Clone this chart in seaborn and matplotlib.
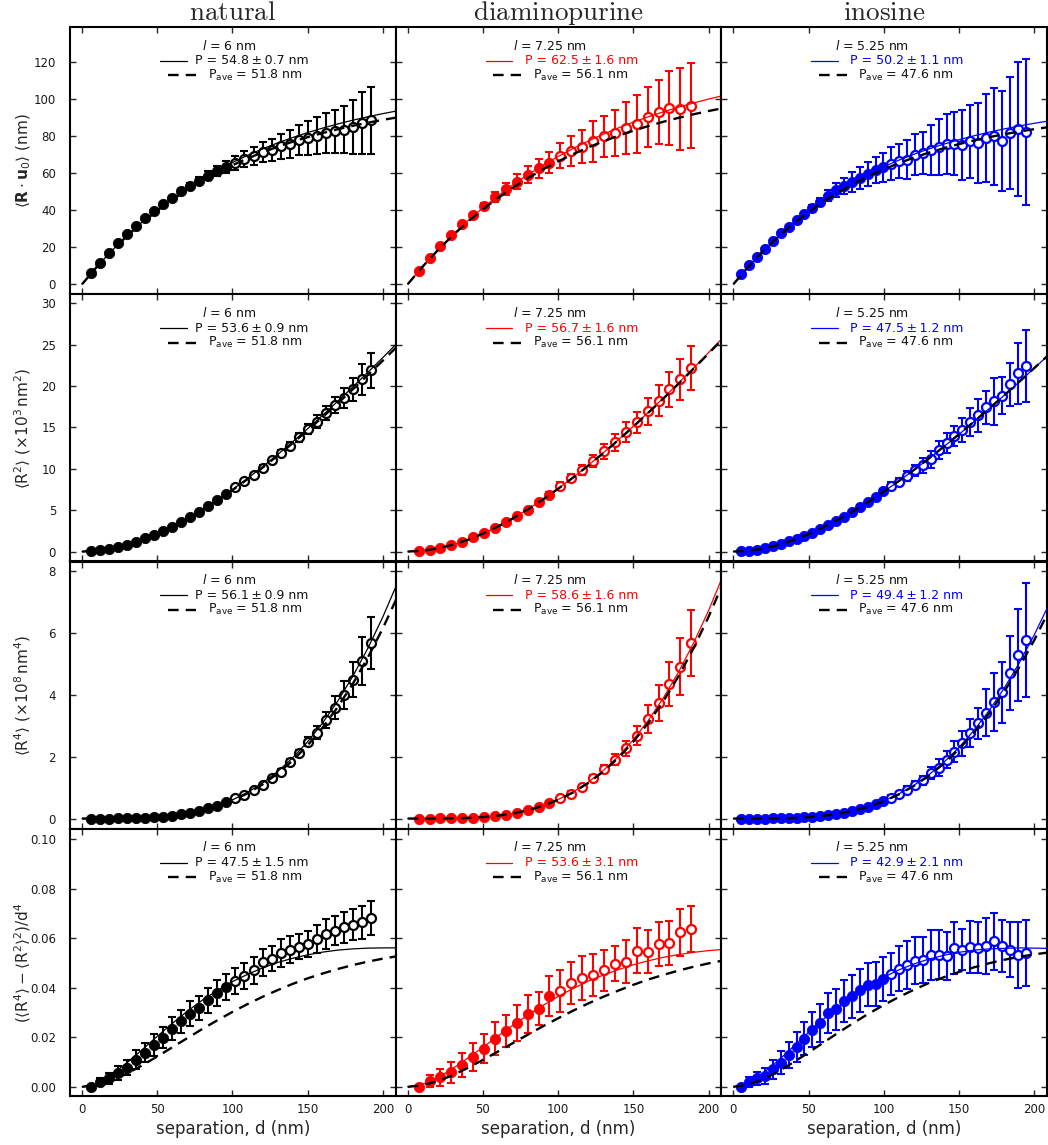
import numpy as np
import pandas as pd
import matplotlib
matplotlib.use("Agg")
import matplotlib.pyplot as plt
from matplotlib.lines import Line2D
from matplotlib.ticker import FormatStrFormatter
import seaborn as sns

# ---------------------------------------------------------------- samples
SAMPLES = ["natural", "diaminopurine", "inosine"]
COLORS = ["black", "#ff0000", "#0000ff"]
SEGMENT = [6.0, 7.25, 5.25]      # segment length l (nm); points sit at multiples of l
N_POINTS = [32, 26, 37]
N_FILLED = [16, 13, 19]          # first points drawn filled, remainder open
P_AVE = [51.8, 56.1, 47.6]
P_FIT = [[54.8, 62.5, 50.2],
         [53.6, 56.7, 47.5],
         [56.1, 58.6, 49.4],
         [47.5, 53.6, 42.9]]
P_ERR = [[0.7, 1.6, 1.1],
         [0.9, 1.6, 1.2],
         [0.9, 1.6, 1.2],
         [1.5, 3.1, 2.1]]

# ---------------------------------------------------------------- <R.u0> (nm)
RU_NAT = [6.2, 11.6, 16.9, 22.1, 26.8, 31.2, 35.5, 39.5, 43.2, 46.7, 50.0, 52.9, 55.8, 58.5, 61.0, 63.2,
          65.4, 67.5, 69.3, 71.1, 72.5, 74.3, 75.6, 77.6, 78.8, 80.1, 81.5, 82.4, 83.3, 84.5, 86.9, 88.3]
RU_NAT_ERR = [0.2, 0.2, 0.3, 0.3, 0.4, 0.4, 0.5, 0.6, 0.8, 1.0, 1.3, 1.6, 2.0, 2.3, 2.6, 3.0,
              3.6, 4.2, 4.8, 5.4, 6.0, 6.7, 7.4, 8.2, 9.0, 9.8, 10.7, 11.5, 12.5, 14.5, 16.8, 18.2]
RU_DAP = [7.3, 14.2, 20.6, 26.6, 32.2, 37.3, 42.2, 47.0, 51.3, 55.3, 59.0, 62.5, 65.5,
          69.3, 71.8, 74.2, 77.0, 79.6, 81.5, 84.2, 86.5, 90.1, 92.8, 94.9, 94.4, 96.2]
RU_DAP_ERR = [0.3, 0.4, 0.5, 0.6, 0.8, 1.0, 1.5, 2.5, 3.3, 4.0, 4.6, 5.0, 5.6,
              6.7, 8.0, 9.1, 11.0, 11.2, 12.3, 14.0, 15.7, 16.0, 17.5, 20.0, 22.0, 23.0]
RU_INO = [5.3, 10.1, 14.8, 19.2, 23.4, 27.4, 31.1, 34.6, 38.0, 41.2, 44.3, 47.8, 50.6, 52.9, 55.1, 57.3, 59.4, 61.3, 62.9,
          65.0, 66.3, 67.2, 69.9, 70.7, 72.5, 73.8, 75.6, 75.8, 75.2, 77.0, 76.1, 78.8, 79.7, 77.0, 81.5, 83.8, 82.0]
RU_INO_ERR = [0.3, 0.3, 0.4, 0.4, 0.5, 0.5, 0.5, 0.6, 1.0, 1.6, 2.3, 3.0, 3.8, 4.5, 5.2, 6.0, 6.5, 7.0, 8.0,
              9.0, 9.0, 10.6, 11.3, 11.5, 13.5, 15.0, 16.0, 17.0, 18.8, 19.7, 21.3, 23.7, 26.0, 27.0, 30.0, 36.0, 39.4]

# ---------------------------------------------------------------- <R^2> (x10^3 nm^2)
R2_NAT = [0.04, 0.14, 0.31, 0.55, 0.84, 1.19, 1.58, 2.03, 2.52, 3.00, 3.55, 4.15, 4.80, 5.45, 6.20, 6.95,
          7.80, 8.55, 9.30, 10.15, 11.05, 11.95, 12.75, 13.80, 14.80, 15.70, 16.75, 17.70, 18.60, 19.60, 20.80, 21.90]
R2_NAT_ERR = [0.01, 0.01, 0.02, 0.02, 0.03, 0.03, 0.04, 0.05, 0.06, 0.07, 0.08, 0.09, 0.10, 0.12, 0.14, 0.16,
              0.20, 0.22, 0.25, 0.28, 0.30, 0.35, 0.45, 0.55, 0.65, 0.80, 0.90, 1.00, 1.20, 1.40, 1.90, 2.15]
R2_DAP = [0.05, 0.20, 0.45, 0.80, 1.20, 1.72, 2.25, 2.90, 3.55, 4.30, 5.05, 5.95, 6.85,
          7.90, 8.85, 9.85, 10.95, 12.10, 13.20, 14.40, 15.60, 16.95, 18.25, 19.60, 20.80, 22.20]
R2_DAP_ERR = [0.01, 0.02, 0.03, 0.05, 0.07, 0.09, 0.10, 0.12, 0.15, 0.18, 0.22, 0.28, 0.35,
              0.45, 0.50, 0.60, 0.75, 0.90, 1.00, 1.20, 1.30, 1.60, 1.90, 2.10, 2.50, 2.70]
R2_INO = [0.03, 0.10, 0.23, 0.42, 0.64, 0.92, 1.22, 1.55, 1.90, 2.30, 2.72, 3.20, 3.70, 4.20, 4.80, 5.40, 5.95, 6.60, 7.30,
          7.90, 8.45, 9.10, 9.80, 10.45, 11.15, 12.30, 13.10, 14.00, 14.70, 15.70, 16.50, 17.45, 18.15, 18.85, 20.25, 21.55, 22.40]
R2_INO_ERR = [0.01, 0.01, 0.01, 0.02, 0.02, 0.03, 0.03, 0.04, 0.05, 0.06, 0.07, 0.08, 0.10, 0.12, 0.14, 0.17, 0.20, 0.25, 0.30,
              0.45, 0.50, 0.60, 0.70, 0.90, 1.00, 1.10, 1.20, 1.20, 1.40, 1.70, 2.00, 2.00, 2.80, 2.20, 2.60, 3.70, 4.35]

# ---------------------------------------------------------------- <R^4> (x10^8 nm^4)
R4_NAT = [0.0, 0.0, 0.001, 0.003, 0.007, 0.014, 0.025, 0.041, 0.063, 0.094, 0.134, 0.185, 0.25, 0.33, 0.42, 0.52,
          0.65, 0.76, 0.92, 1.08, 1.30, 1.51, 1.82, 2.11, 2.49, 2.78, 3.19, 3.59, 4.00, 4.49, 5.11, 5.68]
R4_NAT_ERR = [0.001, 0.001, 0.001, 0.001, 0.002, 0.002, 0.003, 0.004, 0.005, 0.006, 0.008, 0.010, 0.012, 0.015, 0.018, 0.022,
              0.06, 0.07, 0.08, 0.08, 0.09, 0.10, 0.10, 0.12, 0.15, 0.20, 0.26, 0.37, 0.46, 0.57, 0.78, 0.83]
R4_DAP = [0.0, 0.0004, 0.002, 0.006, 0.014, 0.028, 0.05, 0.083, 0.13, 0.19, 0.27, 0.37, 0.49,
          0.65, 0.81, 1.01, 1.30, 1.60, 1.91, 2.27, 2.68, 3.21, 3.75, 4.36, 4.92, 5.68]
R4_DAP_ERR = [0.001, 0.001, 0.001, 0.002, 0.002, 0.003, 0.004, 0.005, 0.007, 0.010, 0.013, 0.017, 0.022,
              0.06, 0.07, 0.08, 0.10, 0.13, 0.19, 0.24, 0.30, 0.45, 0.58, 0.71, 0.92, 1.06]
R4_INO = [0.0, 0.0001, 0.0006, 0.0017, 0.004, 0.008, 0.0146, 0.024, 0.038, 0.056, 0.079, 0.109, 0.146, 0.191, 0.245, 0.308, 0.382, 0.467, 0.565,
          0.68, 0.78, 0.94, 1.10, 1.24, 1.48, 1.65, 1.91, 2.16, 2.43, 2.76, 3.08, 3.43, 3.78, 4.08, 4.70, 5.30, 5.78]
R4_INO_ERR = [0.001, 0.001, 0.001, 0.001, 0.001, 0.001, 0.002, 0.002, 0.003, 0.004, 0.005, 0.007, 0.009, 0.012, 0.015, 0.020, 0.026, 0.034, 0.045,
              0.07, 0.08, 0.10, 0.12, 0.15, 0.19, 0.27, 0.28, 0.34, 0.42, 0.46, 0.50, 0.75, 0.93, 0.98, 1.20, 1.48, 1.86]

# ---------------------------------------------------------------- (<R^4> - <R^2>^2) / d^4
K_NAT = [0.0, 0.0020, 0.0034, 0.0056, 0.0078, 0.0110, 0.0138, 0.0168, 0.0199, 0.0235, 0.0264, 0.0295, 0.0318, 0.0349, 0.0379, 0.0403,
         0.0427, 0.0447, 0.0470, 0.0503, 0.0517, 0.0540, 0.0553, 0.0566, 0.0577, 0.0597, 0.0617, 0.0631, 0.0644, 0.0654, 0.0664, 0.0682]
K_NAT_ERR = [0.0005, 0.0015, 0.0022, 0.0028, 0.0032, 0.0037, 0.0038, 0.0045, 0.0044, 0.0047, 0.0046, 0.0050, 0.0050, 0.0050, 0.0052, 0.0054,
             0.0052, 0.0054, 0.0054, 0.0054, 0.0050, 0.0055, 0.0055, 0.0050, 0.0054, 0.0057, 0.0060, 0.0060, 0.0062, 0.0063, 0.0067, 0.0067]
K_DAP = [0.0, 0.0024, 0.0038, 0.0058, 0.0087, 0.0121, 0.0154, 0.0195, 0.0226, 0.0258, 0.0293, 0.0315, 0.0366,
         0.0387, 0.0419, 0.0440, 0.0450, 0.0470, 0.0497, 0.0506, 0.0550, 0.0546, 0.0577, 0.0580, 0.0624, 0.0638]
K_DAP_ERR = [0.0005, 0.0024, 0.0034, 0.0042, 0.0049, 0.0058, 0.0059, 0.0067, 0.0066, 0.0072, 0.0077, 0.0066, 0.0080,
             0.0084, 0.0085, 0.0088, 0.0085, 0.0082, 0.0070, 0.0087, 0.0090, 0.0088, 0.0089, 0.0089, 0.0094, 0.0094]
K_INO = [0.0, 0.0020, 0.0034, 0.0043, 0.0070, 0.0098, 0.0128, 0.0161, 0.0195, 0.0231, 0.0259, 0.0298, 0.0313, 0.0345, 0.0366, 0.0389, 0.0413, 0.0416, 0.0436,
         0.0456, 0.0477, 0.0493, 0.0510, 0.0513, 0.0533, 0.0533, 0.0530, 0.0561, 0.0554, 0.0564, 0.0561, 0.0570, 0.0587, 0.0570, 0.0554, 0.0533, 0.0541]
K_INO_ERR = [0.0008, 0.0020, 0.0027, 0.0033, 0.0040, 0.0047, 0.0053, 0.0060, 0.0065, 0.0071, 0.0076, 0.0080, 0.0082, 0.0085, 0.0087, 0.0088, 0.0088, 0.0089, 0.0089,
             0.0084, 0.0090, 0.0097, 0.0093, 0.0092, 0.0100, 0.0099, 0.0097, 0.0106, 0.0083, 0.0104, 0.0103, 0.0113, 0.0114, 0.0105, 0.0110, 0.0133, 0.0134]

# ---------------------------------------------------------------- model curves, sampled every 10 nm
D_CURVE = np.arange(0, 211, 10)

RU_NAT_FIT = [0, 9.56, 18.28, 26.24, 33.52, 40.15, 46.20, 51.73, 56.78, 61.39, 65.58, 69.42, 72.93, 76.13, 79.04, 81.71, 84.14, 86.36, 88.39, 90.24, 91.93, 93.47]
RU_NAT_AVE = [0, 9.53, 18.19, 26.05, 33.18, 39.66, 45.54, 50.89, 55.74, 60.14, 64.14, 67.77, 71.07, 74.06, 76.78, 79.24, 81.49, 83.52, 85.37, 87.04, 88.57, 89.96]
RU_DAP_FIT = [0, 9.61, 18.49, 26.67, 34.24, 41.21, 47.65, 53.60, 59.09, 64.15, 68.83, 73.15, 77.14, 80.81, 84.21, 87.35, 90.25, 92.91, 95.39, 97.66, 99.76, 101.70]
RU_DAP_AVE = [0, 9.57, 18.32, 26.32, 33.65, 40.35, 46.47, 52.07, 57.20, 61.89, 66.19, 70.10, 73.69, 76.98, 79.99, 82.73, 85.24, 87.54, 89.65, 91.57, 93.33, 94.93]
RU_INO_FIT = [0, 9.52, 18.13, 25.93, 32.99, 39.39, 45.17, 50.40, 55.14, 59.44, 63.32, 66.84, 70.02, 72.90, 75.50, 77.86, 79.99, 81.94, 83.68, 85.27, 86.71, 88.00]
RU_INO_AVE = [0, 9.49, 18.04, 25.73, 32.66, 38.90, 44.51, 49.56, 54.11, 58.21, 61.90, 65.22, 68.21, 70.90, 73.32, 75.50, 77.47, 79.24, 80.83, 82.26, 83.55, 84.72]

R2_NAT_FIT = [0, 0.097, 0.375, 0.821, 1.419, 2.155, 3.012, 3.988, 5.064, 6.239, 7.498, 8.838, 10.25, 11.72, 13.26, 14.85, 16.49, 18.17, 19.90, 21.66, 23.45, 25.28]
R2_NAT_AVE = [0, 0.097, 0.375, 0.818, 1.413, 2.142, 2.996, 3.960, 5.027, 6.187, 7.430, 8.750, 10.14, 11.59, 13.10, 14.66, 16.27, 17.92, 19.61, 21.33, 23.09, 24.87]
R2_DAP_FIT = [0, 0.098, 0.377, 0.823, 1.429, 2.170, 3.039, 4.030, 5.128, 6.323, 7.609, 8.979, 10.42, 11.94, 13.52, 15.15, 16.84, 18.58, 20.36, 22.19, 24.05, 25.94]
R2_DAP_AVE = [0, 0.097, 0.377, 0.826, 1.425, 2.165, 3.036, 4.024, 5.116, 6.308, 7.587, 8.954, 10.39, 11.90, 13.47, 15.10, 16.78, 18.50, 20.27, 22.09, 23.94, 25.82]
R2_INO_FIT = [0, 0.097, 0.373, 0.812, 1.397, 2.111, 2.946, 3.888, 4.925, 6.048, 7.248, 8.519, 9.853, 11.24, 12.69, 14.17, 15.70, 17.27, 18.87, 20.50, 22.16, 23.84]
R2_INO_AVE = [0, 0.097, 0.373, 0.813, 1.398, 2.113, 2.949, 3.892, 4.929, 6.053, 7.254, 8.526, 9.861, 11.25, 12.70, 14.18, 15.71, 17.28, 18.88, 20.51, 22.17, 23.85]

R4_NAT_FIT = [0, 0.0001, 0.0014, 0.0068, 0.0205, 0.0476, 0.0940, 0.1661, 0.2704, 0.4139, 0.6037, 0.8467, 1.1499, 1.5201, 1.9640, 2.4883, 3.0993, 3.8021, 4.6041, 5.5112, 6.5288, 7.6618]
R4_NAT_AVE = [0, 0.0001, 0.0014, 0.0068, 0.0202, 0.0467, 0.0918, 0.1616, 0.2624, 0.4006, 0.5826, 0.8149, 1.1038, 1.4555, 1.8764, 2.3719, 2.9475, 3.6092, 4.3620, 5.2109, 6.1605, 7.2155]
R4_DAP_FIT = [0, 0.0001, 0.0014, 0.0069, 0.0207, 0.0482, 0.0952, 0.1684, 0.2747, 0.4213, 0.6153, 0.8640, 1.1747, 1.5546, 2.0109, 2.5511, 3.1818, 3.9088, 4.7382, 5.6770, 6.7305, 7.9059]
R4_DAP_AVE = [0, 0.0001, 0.0014, 0.0068, 0.0205, 0.0476, 0.0940, 0.1661, 0.2704, 0.4139, 0.6037, 0.8467, 1.1499, 1.5201, 1.9640, 2.4883, 3.0993, 3.8021, 4.6041, 5.5112, 6.5288, 7.6618]
R4_INO_FIT = [0, 0.0001, 0.0014, 0.0067, 0.0200, 0.0461, 0.0904, 0.1589, 0.2574, 0.3923, 0.5696, 0.7954, 1.0758, 1.4166, 1.8237, 2.3017, 2.8568, 3.4938, 4.2173, 5.0320, 5.9423, 6.9520]
R4_INO_AVE = [0, 0.0001, 0.0014, 0.0067, 0.0198, 0.0456, 0.0893, 0.1567, 0.2536, 0.3859, 0.5596, 0.7804, 1.0541, 1.3864, 1.7824, 2.2473, 2.7862, 3.4037, 4.1043, 4.8923, 5.7716, 6.7462]

K_NAT_FIT = [0, 0.0015, 0.0050, 0.0098, 0.0150, 0.0204, 0.0256, 0.0305, 0.0350, 0.0389, 0.0425, 0.0454, 0.0480, 0.0502, 0.0519, 0.0533, 0.0544, 0.0552, 0.0557, 0.0560, 0.0561, 0.0561]
K_NAT_AVE = [0, 0.00074, 0.00267, 0.00540, 0.00869, 0.01225, 0.01595, 0.01968, 0.02336, 0.02688, 0.03025, 0.03341, 0.03634, 0.03904, 0.04156, 0.04381, 0.04577, 0.04757, 0.04916, 0.05055, 0.05176, 0.05279]
K_DAP_FIT = [0, 0.0011, 0.0037, 0.0074, 0.0116, 0.0160, 0.0205, 0.0249, 0.0290, 0.0329, 0.0365, 0.0397, 0.0427, 0.0451, 0.0473, 0.0493, 0.0509, 0.0523, 0.0534, 0.0543, 0.0550, 0.0555]
K_DAP_AVE = [0, 0.00064, 0.00231, 0.00472, 0.00767, 0.01087, 0.01424, 0.01768, 0.02111, 0.02449, 0.02769, 0.03077, 0.03366, 0.03635, 0.03885, 0.04120, 0.04335, 0.04520, 0.04693, 0.04848, 0.04984, 0.05104]
K_INO_FIT = [0, 0.0016, 0.0056, 0.0107, 0.0163, 0.0220, 0.0274, 0.0324, 0.0369, 0.0409, 0.0443, 0.0472, 0.0496, 0.0516, 0.0531, 0.0543, 0.0552, 0.0557, 0.0559, 0.0561, 0.0560, 0.0559]
K_INO_AVE = [0, 0.00087, 0.00310, 0.00625, 0.00992, 0.01387, 0.01793, 0.02196, 0.02586, 0.02957, 0.03305, 0.03626, 0.03919, 0.04193, 0.04428, 0.04638, 0.04826, 0.04989, 0.05129, 0.05249, 0.05348, 0.05428]

POINTS = [[RU_NAT, RU_DAP, RU_INO], [R2_NAT, R2_DAP, R2_INO], [R4_NAT, R4_DAP, R4_INO], [K_NAT, K_DAP, K_INO]]
ERRORS = [[RU_NAT_ERR, RU_DAP_ERR, RU_INO_ERR], [R2_NAT_ERR, R2_DAP_ERR, R2_INO_ERR],
          [R4_NAT_ERR, R4_DAP_ERR, R4_INO_ERR], [K_NAT_ERR, K_DAP_ERR, K_INO_ERR]]
FITS = [[RU_NAT_FIT, RU_DAP_FIT, RU_INO_FIT], [R2_NAT_FIT, R2_DAP_FIT, R2_INO_FIT],
        [R4_NAT_FIT, R4_DAP_FIT, R4_INO_FIT], [K_NAT_FIT, K_DAP_FIT, K_INO_FIT]]
AVES = [[RU_NAT_AVE, RU_DAP_AVE, RU_INO_AVE], [R2_NAT_AVE, R2_DAP_AVE, R2_INO_AVE],
        [R4_NAT_AVE, R4_DAP_AVE, R4_INO_AVE], [K_NAT_AVE, K_DAP_AVE, K_INO_AVE]]

YLABELS = [r"$\langle\mathbf{R}\cdot\mathbf{u}_0\rangle$ (nm)",
           r"$\langle\mathrm{R}^2\rangle\ (\times10^3\,\mathrm{nm}^2)$",
           r"$\langle\mathrm{R}^4\rangle\ (\times10^8\,\mathrm{nm}^4)$",
           r"$(\langle\mathrm{R}^4\rangle-\langle\mathrm{R}^2\rangle^2)/\mathrm{d}^4$"]
YLIMS = [(-5.4, 138.6), (-1.2, 31.1), (-0.33, 8.32), (-0.0037, 0.1042)]
YTICKS = [np.arange(0, 121, 20), np.arange(0, 31, 5), np.arange(0, 9, 2), np.arange(0, 0.101, 0.02)]
YFMT = ["%d", "%d", "%d", "%.2f"]
XTICKS = [0, 50, 100, 150, 200]

# key layout (axes fraction) per column
KEY_L_X = [0.488, 0.474, 0.463]
KEY_P_X = [0.385, 0.397, 0.396]
KEY_AVE_X = [0.423, 0.422, 0.421]
KEY_Y = [0.930, 0.873, 0.819]
DASH = (0, (4.5, 3.0))

# ---------------------------------------------------------------- style
sns.set_theme(style="ticks")
plt.rcParams["font.family"] = ["DejaVu Sans"]
plt.rcParams["mathtext.fontset"] = "dejavusans"

fig, axes = plt.subplots(4, 3, figsize=(10.48, 11.45), dpi=100, sharex=True, sharey="row")
fig.subplots_adjust(left=70 / 1048, right=1047 / 1048, top=1 - 27 / 1145,
                    bottom=1 - 1096 / 1145, hspace=0, wspace=0)

for r in range(4):
    for c in range(3):
        ax = axes[r, c]
        col = COLORS[c]
        d = SEGMENT[c] * np.arange(1, N_POINTS[c] + 1)
        y = np.asarray(POINTS[r][c])
        e = np.asarray(ERRORS[r][c])
        nf = N_FILLED[c]

        ax.errorbar(d, y, yerr=e, fmt="none", ecolor=col, elinewidth=1.5,
                    capsize=3.0, capthick=1.5, zorder=2)
        filled = pd.DataFrame({"d": d[:nf], "v": y[:nf]})
        hollow = pd.DataFrame({"d": d[nf:], "v": y[nf:]})
        sns.scatterplot(data=filled, x="d", y="v", ax=ax, color=col, edgecolor=col,
                        s=55, linewidth=0.6, zorder=3, legend=False)
        sns.scatterplot(data=hollow, x="d", y="v", ax=ax, color="white", edgecolor=col,
                        s=42, linewidth=1.6, zorder=3, legend=False)

        curves = pd.DataFrame({"d": D_CURVE, "fit": FITS[r][c], "ave": AVES[r][c]})
        sns.lineplot(data=curves, x="d", y="fit", ax=ax, color=col, linewidth=0.9, zorder=4)
        sns.lineplot(data=curves, x="d", y="ave", ax=ax, color="black", linewidth=1.7, zorder=5)
        ax.lines[-1].set_linestyle(DASH)

        # key
        ax.text(KEY_L_X[c], KEY_Y[0], rf"$l$ = {SEGMENT[c]:g} nm", transform=ax.transAxes,
                ha="center", va="center", fontsize=9, color="#111111")
        ax.add_line(Line2D([0.276, 0.358], [KEY_Y[1], KEY_Y[1]], transform=ax.transAxes,
                           color=col, lw=0.9))
        ax.text(KEY_P_X[c], KEY_Y[1], f"P = {P_FIT[r][c]:.1f}\u2009\u00b1\u2009{P_ERR[r][c]:.1f} nm",
                transform=ax.transAxes, ha="left", va="center", fontsize=9,
                color=col if c else "#111111")
        ax.add_line(Line2D([0.300, 0.386], [KEY_Y[2], KEY_Y[2]], transform=ax.transAxes,
                           color="black", lw=1.7, linestyle=DASH))
        ax.text(KEY_AVE_X[c], KEY_Y[2], f"P$_{{\\mathrm{{ave}}}}$ = {P_AVE[c]:.1f} nm",
                transform=ax.transAxes, ha="left", va="center", fontsize=9, color="#111111")

        # axes cosmetics
        ax.set_xlim(-8, 208.5)
        ax.set_ylim(*YLIMS[r])
        ax.set_xticks(XTICKS)
        ax.set_yticks(YTICKS[r])
        ax.yaxis.set_major_formatter(FormatStrFormatter(YFMT[r]))
        ax.tick_params(direction="in", length=4.5, width=1.0, top=True, right=True,
                       labelsize=8.5, labelcolor="#1a1a1a")
        ax.tick_params(axis="y", pad=10)
        ax.tick_params(axis="x", pad=5)
        for sp in ax.spines.values():
            sp.set_linewidth(1.5)
            sp.set_color("black")
        ax.set_xlabel("")
        ax.set_ylabel("")
        if c == 0:
            ax.set_ylabel(YLABELS[r], fontsize=11)
            ax.yaxis.set_label_coords(-0.115, 0.5)
        if r == 3:
            ax.set_xlabel("separation, d (nm)", fontsize=12, labelpad=3)
        if r == 0:
            ax.set_title(rf"$\mathrm{{{SAMPLES[c]}}}$", fontsize=19.5, pad=5.0, math_fontfamily="cm")

fig.savefig("out.png", dpi=100)
